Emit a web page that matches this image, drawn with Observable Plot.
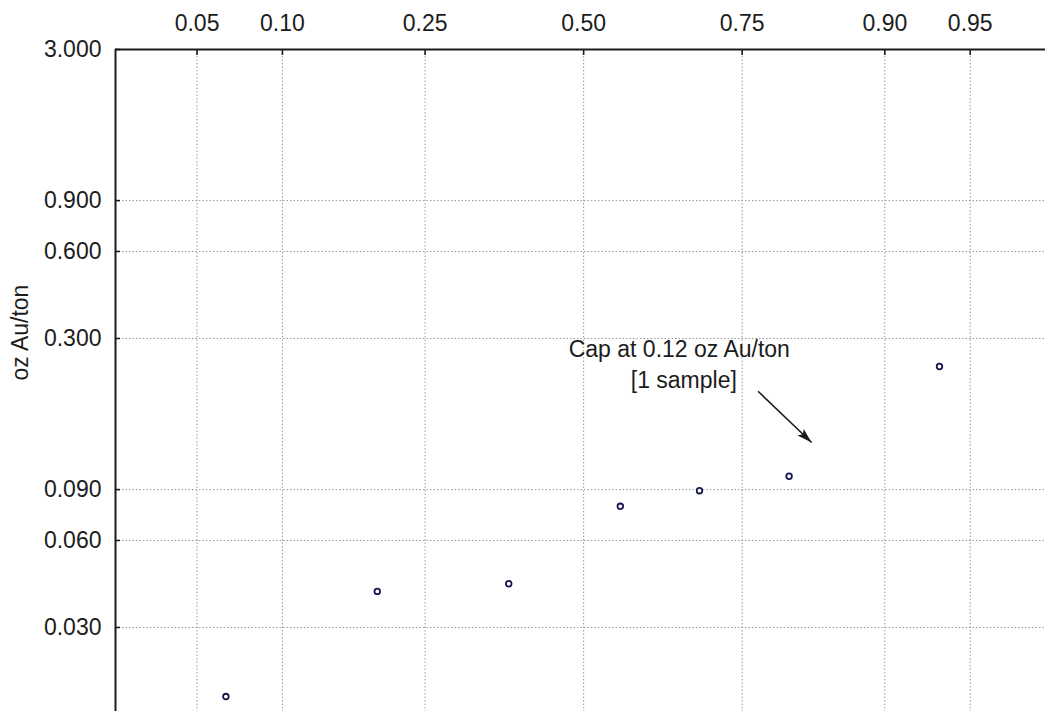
<!DOCTYPE html>
<html>
<head>
<meta charset="utf-8">
<script src="https://cdn.jsdelivr.net/npm/d3@7"></script>
<script src="https://cdn.jsdelivr.net/npm/@observablehq/plot@0.6"></script>
<style>
  html, body { margin: 0; padding: 0; background: #fff; }
  #chart svg { display: block; }
</style>
</head>
<body>
<div id="chart"></div>
<script>
// Cumulative probability (plotting position) of each sample
const cumProb = [0.064, 0.190, 0.375, 0.562, 0.689, 0.809, 0.935];
// Gold grade of each sample, oz Au/ton
const grade = [0.0173, 0.0400, 0.0425, 0.0788, 0.0892, 0.1001, 0.240];

// Axis ticks
const probTicks = [0.05, 0.10, 0.25, 0.50, 0.75, 0.90, 0.95];
const gradeTicks = [3.0, 0.9, 0.6, 0.3, 0.09, 0.06, 0.03];

// Visible extent of the probability and grade axes
const probDomain = [0.0232, 0.9753];
const gradeDomain = [0.01536, 3.0];

// Annotation for the capped sample
const noteText = ["Cap at 0.12 oz Au/ton", "[1 sample]"];
const noteProb = [0.658, 0.665];
const noteGrade = [0.275, 0.215];
const arrowProb = [0.771, 0.834];
const arrowGrade = [0.197, 0.131];

// Inverse of the standard normal CDF (Acklam's rational approximation)
function probit(p) {
  const a = [-3.969683028665376e+01, 2.209460984245205e+02, -2.759285104469687e+02, 1.383577518672690e+02, -3.066479806614716e+01, 2.506628277459239e+00];
  const b = [-5.447609879822406e+01, 1.615858368580409e+02, -1.556989798598866e+02, 6.680131188771972e+01, -1.328068155288572e+01];
  const c = [-7.784894002430293e-03, -3.223964580411365e-01, -2.400758277161838e+00, -2.549732539343734e+00, 4.374664141464968e+00, 2.938163982698783e+00];
  const d = [7.784695709041462e-03, 3.224671290700398e-01, 2.445134137142996e+00, 3.754408661907416e+00];
  const pl = 0.02425, ph = 1 - pl;
  let q, r;
  if (p < pl) {
    q = Math.sqrt(-2 * Math.log(p));
    return (((((c[0]*q+c[1])*q+c[2])*q+c[3])*q+c[4])*q+c[5]) / ((((d[0]*q+d[1])*q+d[2])*q+d[3])*q+1);
  }
  if (p <= ph) {
    q = p - 0.5; r = q * q;
    return (((((a[0]*r+a[1])*r+a[2])*r+a[3])*r+a[4])*r+a[5])*q / (((((b[0]*r+b[1])*r+b[2])*r+b[3])*r+b[4])*r+1);
  }
  q = Math.sqrt(-2 * Math.log(1 - p));
  return -(((((c[0]*q+c[1])*q+c[2])*q+c[3])*q+c[4])*q+c[5]) / ((((d[0]*q+d[1])*q+d[2])*q+d[3])*q+1);
}

const samples = cumProb.map((p, i) => ({z: probit(p), g: grade[i]}));
const notes = noteText.map((t, i) => ({text: t, z: probit(noteProb[i]), g: noteGrade[i]}));
const arrow = [{x1: probit(arrowProb[0]), y1: arrowGrade[0], x2: probit(arrowProb[1]), y2: arrowGrade[1]}];

const tickZ = probTicks.map(probit);
const fmtProb = z => d3.format(".2f")(probTicks[tickZ.indexOf(z)]);
const zDomain = probDomain.map(probit);

// Filled arrowhead, tip at the origin, pointing up
const arrowHead = {
  draw(ctx) {
    ctx.moveTo(0, 0);
    ctx.lineTo(-4.5, 15);
    ctx.lineTo(0, 12);
    ctx.lineTo(4.5, 15);
    ctx.closePath();
  }
};

const ink = "#1c1c1c";
const fs = 23;
const gridStyle = {stroke: "#999", strokeOpacity: 1, strokeWidth: 1, strokeDasharray: "1.5,2"};

const chart = Plot.plot({
  width: 1045,
  height: 711,
  marginLeft: 115,
  marginRight: 0,
  marginTop: 49,
  marginBottom: 0,
  style: {fontFamily: "'Liberation Sans', Arial, sans-serif", fontSize: fs + "px", color: ink, background: "#fff"},
  x: {type: "linear", domain: zDomain},
  y: {type: "log", domain: gradeDomain},
  marks: [
    Plot.gridX(tickZ, gridStyle),
    Plot.gridY(gradeTicks, gridStyle),
    Plot.axisX(tickZ, {anchor: "top", tickSize: 0, tickPadding: 19, tickFormat: fmtProb, label: null, fontSize: fs, fill: ink}),
    Plot.axisX(tickZ, {anchor: "top", tickSize: -5, tickFormat: () => "", label: null, stroke: ink, strokeWidth: 1.6}),
    Plot.axisY(gradeTicks, {anchor: "left", tickSize: 0, tickPadding: 14, tickFormat: d3.format(".3f"), label: null, fontSize: fs, fill: ink}),
    Plot.axisY(gradeTicks, {anchor: "left", tickSize: -5, tickFormat: () => "", label: null, stroke: ink, strokeWidth: 1.6}),
    Plot.ruleY([gradeDomain[1]], {stroke: ink, strokeWidth: 2}),
    Plot.ruleX([zDomain[0]], {stroke: ink, strokeWidth: 2}),
    Plot.text(["oz Au/ton"], {frameAnchor: "left", rotate: -90, dx: -95, fontSize: fs, fill: ink}),
    Plot.dot(samples, {x: "z", y: "g", r: 2.8, stroke: "#161650", strokeWidth: 1.8, fill: "#fff"}),
    Plot.text(notes, {x: "z", y: "g", text: "text", fontSize: fs, fill: ink}),
    Plot.link(arrow, {x1: "x1", y1: "y1", x2: "x2", y2: "y2", stroke: ink, strokeWidth: 1.6}),
    Plot.dot(arrow, {x: "x2", y: "y2", symbol: arrowHead, rotate: 133, fill: ink, stroke: "none"})
  ]
});

document.getElementById("chart").appendChild(chart);
</script>
</body>
</html>
